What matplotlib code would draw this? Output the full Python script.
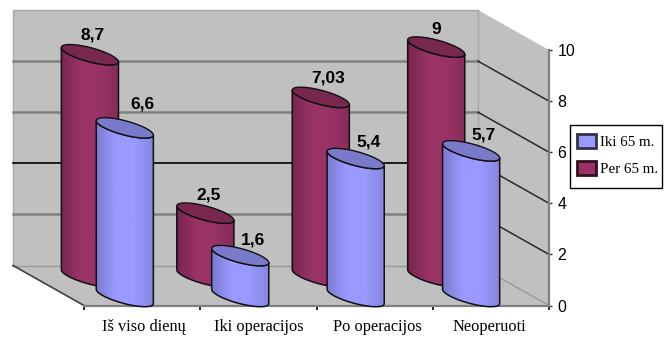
"""Cylinder bar chart with a 3D look, drawn on a flat matplotlib axes."""

import numpy as np
import matplotlib
matplotlib.use("Agg")
import matplotlib.pyplot as plt
from matplotlib.colors import LinearSegmentedColormap
from matplotlib.patches import Patch, Polygon, Rectangle

categories = ["Iš viso dienų", "Iki operacijos", "Po operacijos", "Neoperuoti"]
iki_65 = [6.6, 1.6, 5.4, 5.7]
per_65 = [8.7, 2.5, 7.03, 9]
iki_text = ["6,6", "1,6", "5,4", "5,7"]
per_text = ["8,7", "2,5", "7,03", "9"]
y_ticks = [0, 2, 4, 6, 8, 10]

# pixel layout of the front plane
W, H = 667, 338
LEFT, RIGHT, TOP, BOTTOM = 84, 549, 50, 305.5
XS = (RIGHT - LEFT) / 4
YS = (BOTTOM - TOP) / 10
DEPTH = (-71, -40)
GROUP_STEP = 0.993

IKI = {"pos": 0.351, "base": -9, "cols": ["#7b7bd0", "#9999ff", "#9999ff", "#8585dd"], "top": "#7a7acb"}
PER = {"pos": 0.051, "base": -28.5, "cols": ["#77264f", "#993366", "#993366", "#862c59"], "top": "#78284f"}
IKI_OFFSETS = [(18, -24), (13, -16), (13, -17), (12, -16)]
PER_OFFSETS = [(3, -20), (3, -18), (7, -19), (0, -18)]

SERIF = "Liberation Serif"
SANS = "Liberation Sans"


def shift(x, v, dx=0, dy=0):
    """Move a data point by a pixel offset (dy is downwards)."""
    return x + dx / XS, v - dy / YS


def ellipse_points():
    """Tilted ellipse outline in pixels relative to the cylinder axis."""
    t = np.linspace(0, 2 * np.pi, 181)[:-1]
    a, b, angle = 29.5, 7.0, np.radians(15)
    px = a * np.cos(t) * np.cos(angle) - b * np.sin(t) * np.sin(angle)
    py = a * np.cos(t) * np.sin(angle) + b * np.sin(t) * np.cos(angle)
    return px, py


def draw_cylinder(ax, x, value, style, z):
    px, py = ellipse_points()
    # start at the right extreme so the lower half runs in one piece to the left extreme
    start = int(np.argmax(px))
    px, py = np.roll(px, -start), np.roll(py, -start)
    lower = np.arange(0, int(np.argmin(px)) + 1)

    base_x, base_v = shift(x, 0, 0, style["base"])
    top_v = base_v + value

    bottom_arc = np.column_stack([base_x + px[lower] / XS, base_v - py[lower] / YS])
    top_arc = np.column_stack([base_x + px[lower] / XS, top_v - py[lower] / YS])[::-1]
    body = Polygon(np.vstack([bottom_arc, top_arc]), closed=True, facecolor="none",
                   edgecolor="#111111", linewidth=1.1, zorder=z + 0.1, clip_on=False)
    ax.add_patch(body)

    cmap = LinearSegmentedColormap.from_list("shade", style["cols"])
    im = ax.imshow(np.linspace(0, 1, 64).reshape(1, -1), cmap=cmap, aspect="auto",
                   extent=(base_x + px.min() / XS, base_x + px.max() / XS,
                           base_v - 1, top_v + 1), zorder=z, interpolation="bilinear")
    im.set_clip_box(ax.figure.bbox)
    im.set_clip_path(body)

    ax.add_patch(Polygon(np.column_stack([base_x + px / XS, top_v - py / YS]), closed=True,
                         facecolor=style["top"], edgecolor="#111111", linewidth=1.0,
                         zorder=z + 0.2, clip_on=False))
    return base_x, top_v


def draw_box(ax):
    """Back wall, side wall, floor and their grid lines."""
    dx, dy = DEPTH
    wall = "#c0c0c0"
    back = [shift(0, 0, dx, dy), shift(4, 0, dx, dy), shift(4, 10, dx, dy), shift(0, 10, dx, dy)]
    side = [shift(4, 0, dx, dy), (4, 0), (4, 10), shift(4, 10, dx, dy)]
    floor = [shift(0, 0, dx, dy), shift(4, 0, dx, dy), (4, 0), (0, 0)]
    for pts in (back, side, floor):
        ax.add_patch(Polygon(pts, closed=True, facecolor=wall, edgecolor="none",
                             zorder=0.2, clip_on=False))

    # wall outline
    ax.plot(*zip(back[0], back[3], back[2], side[3]), color="#a8a8a8", lw=1.0, zorder=0.5, clip_on=False)
    ax.plot(*zip(back[1], back[2]), color="#a8a8a8", lw=1.0, zorder=0.5, clip_on=False)
    ax.plot(*zip(back[0], back[1]), color="#9a9a9a", lw=1.0, zorder=0.5, clip_on=False)
    ax.plot(*zip(back[1], (4, 0)), color="#9a9a9a", lw=1.0, zorder=0.5, clip_on=False)
    ax.plot(*zip(back[0], (0, 0)), color="#404040", lw=1.2, zorder=0.5, clip_on=False)

    for v in y_ticks[1:-1]:
        back_col = "#000000" if v == 4 else "#808080"
        back_lw = 1.2 if v == 4 else 1.8
        ax.plot(*zip(shift(0, v, dx, dy), shift(4, v, dx, dy)), color=back_col, lw=back_lw,
                zorder=0.6, clip_on=False)
        ax.plot(*zip(shift(4, v, dx, dy), (4, v)), color="#2a2a2a", lw=1.1, zorder=0.6, clip_on=False)


def main():
    fig = plt.figure(figsize=(W / 100, H / 100), dpi=100, facecolor="white")
    ax = fig.add_axes([LEFT / W, 1 - BOTTOM / H, (RIGHT - LEFT) / W, (BOTTOM - TOP) / H])
    ax.patch.set_visible(False)

    draw_box(ax)

    z = 3
    for i in range(len(categories)):
        for style, values, texts, offsets in ((PER, per_65, per_text, PER_OFFSETS),
                                              (IKI, iki_65, iki_text, IKI_OFFSETS)):
            cx, top_v = draw_cylinder(ax, i * GROUP_STEP + style["pos"], values[i], style, z)
            tx, tv = shift(cx, top_v, *offsets[i])
            ax.text(tx, tv, texts[i], family=SANS, fontweight="bold", fontsize=12.5,
                    ha="center", va="center", color="black", zorder=60)
            z += 1

    ax.set_xlim(0, 4)
    ax.set_ylim(0, 10)

    for name in ("top", "left"):
        ax.spines[name].set_visible(False)
    for name in ("right", "bottom"):
        ax.spines[name].set_color("#808080")
        ax.spines[name].set_linewidth(1.6)

    ax.yaxis.tick_right()
    ax.set_yticks(y_ticks)
    ax.tick_params(axis="y", length=2.5, width=1.0, color="#333333", pad=3.6, labelsize=11.5)
    for label in ax.get_yticklabels():
        label.set_family(SANS)

    ax.set_xticks(range(len(categories) + 1))
    ax.set_xticklabels([])
    ax.tick_params(axis="x", which="major", length=3, width=1.2, color="black")
    ax.set_xticks([0.515, 1.5, 2.52, 3.49], minor=True)
    ax.set_xticklabels(categories, minor=True, family=SERIF, fontsize=11.8)
    ax.tick_params(axis="x", which="minor", length=0, pad=10)

    # legend frame is drawn on its own so its size can follow the reference exactly
    ax.add_patch(Rectangle((570 / W, 1 - 188 / H), 92 / W, 63 / H, transform=fig.transFigure,
                           facecolor="white", edgecolor="black", linewidth=1.0,
                           clip_on=False, zorder=65))
    handles = [Patch(facecolor="#9999ff", edgecolor="#333344", linewidth=2.0, label="Iki 65 m."),
               Patch(facecolor="#993366", edgecolor="#331122", linewidth=2.0, label="Per 65 m.")]
    leg = ax.legend(handles=handles, loc="upper left", bbox_to_anchor=(577 / W, 1 - 134 / H),
                    bbox_transform=fig.transFigure, prop={"family": SERIF, "size": 10.8},
                    frameon=False, borderaxespad=0, borderpad=0,
                    handlelength=1.25, handleheight=1.1, handletextpad=0.3, labelspacing=0.75)
    leg.set_zorder(70)

    fig.savefig("out.png", dpi=100)


if __name__ == "__main__":
    main()
